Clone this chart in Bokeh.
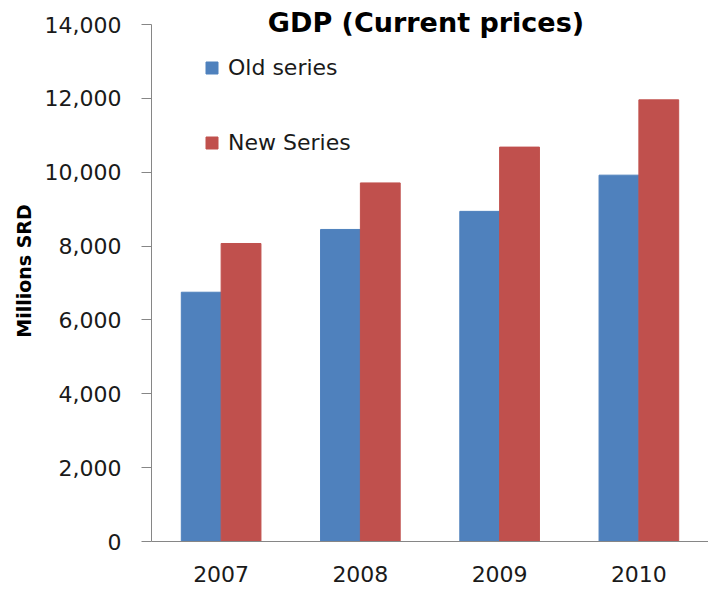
from bokeh.plotting import figure
from bokeh.models import FactorRange, ColumnDataSource, Legend, LegendItem, Label, NumeralTickFormatter, FixedTicker
from bokeh.transform import dodge
from bokeh.embed import file_html
from bokeh.resources import INLINE

years = ["2007", "2008", "2009", "2010"]
old_series = [6750, 8450, 8940, 9920]
new_series = [8070, 9710, 10680, 11960]
y_ticks = [0, 2000, 4000, 6000, 8000, 10000, 12000, 14000]

FONT = "DejaVu Sans"

src = ColumnDataSource(dict(years=years, old=old_series, new=new_series))

p = figure(x_range=FactorRange(*years, range_padding=0), y_range=(0, 14650),
           width=708, height=590, output_backend="svg", toolbar_location=None,
           min_border_left=151, min_border_right=0, min_border_top=0, min_border_bottom=49)

r_old = p.vbar(x=dodge("years", -0.143, range=p.x_range), top="old", width=0.286, source=src,
               fill_color="#4F81BD", line_color="#4F81BD")
r_new = p.vbar(x=dodge("years", 0.143, range=p.x_range), top="new", width=0.286, source=src,
               fill_color="#C0504D", line_color="#C0504D")

p.outline_line_color = None
p.xgrid.grid_line_color = None
p.ygrid.grid_line_color = None
p.background_fill_color = "white"

p.yaxis.bounds = (0, 14000)
p.yaxis.ticker = FixedTicker(ticks=y_ticks)
p.yaxis.formatter = NumeralTickFormatter(format="0,0")
p.yaxis.major_tick_out = 10
p.yaxis.major_tick_in = 0
p.yaxis.minor_tick_line_color = None
p.yaxis.major_label_standoff = 20
p.yaxis.axis_label = "Millions SRD"
p.yaxis.axis_label_text_font = FONT
p.yaxis.axis_label_text_font_style = "bold"
p.yaxis.axis_label_text_font_size = "19px"
p.yaxis.axis_label_text_color = "black"
p.yaxis.axis_label_standoff = 7

for ax in (p.xaxis, p.yaxis):
    ax.axis_line_color = "#868686"
    ax.major_tick_line_color = "#868686"
    ax.major_label_text_font = FONT
    ax.major_label_text_font_size = "22px"
    ax.major_label_text_color = "#1a1a1a"

p.xaxis.major_tick_out = 0
p.xaxis.major_tick_in = 0
p.xaxis.major_label_standoff = 24

legend = Legend(items=[LegendItem(label="Old series", renderers=[r_old]),
                       LegendItem(label="New Series", renderers=[r_new])],
                location=(53, 386), padding=0, margin=0, spacing=50,
                glyph_width=15, glyph_height=15, label_standoff=9,
                label_text_font=FONT, label_text_font_size="22px", label_text_color="#1a1a1a",
                border_line_color=None, background_fill_alpha=0)
p.add_layout(legend, "center")

title = Label(x=1.971, y=14050, text="GDP (Current prices)", text_font=FONT, text_font_style="bold",
              text_font_size="27px", text_align="center", text_baseline="alphabetic", text_color="black")
p.add_layout(title)

open("out.html", "w").write(file_html(p, INLINE))
